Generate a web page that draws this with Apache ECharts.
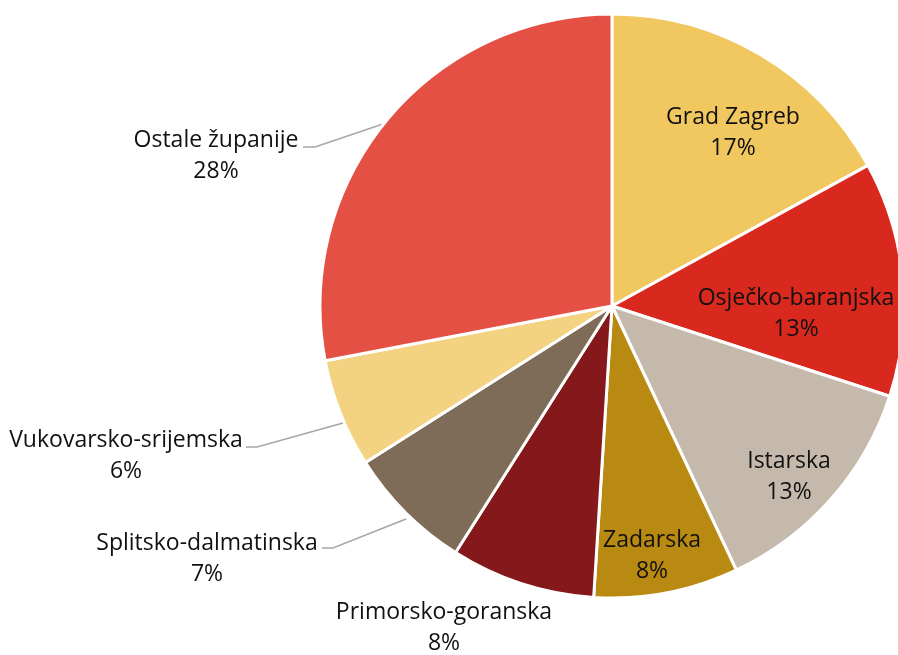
<!DOCTYPE html>
<html>
<head>
<meta charset="utf-8">
<script src="https://cdn.jsdelivr.net/npm/echarts@6/dist/echarts.min.js"></script>
<style>
  html, body { margin: 0; padding: 0; background: #fff; }
  #chart { width: 898px; height: 655px; }
</style>
</head>
<body>
<div id="chart"></div>
<script>
// Share of counties (percent), clockwise from 12 o'clock
const counties = [
  'Grad Zagreb', 'Osječko-baranjska', 'Istarska', 'Zadarska',
  'Primorsko-goranska', 'Splitsko-dalmatinska', 'Vukovarsko-srijemska', 'Ostale županije'
];
const shares = [17, 13, 13, 8, 8, 7, 6, 28];
const sliceColors = [
  '#F1C75F', '#D9281E', '#C5B9AB', '#B98A12',
  '#84181A', '#7F6C58', '#F3D282', '#E55045'
];

// Label placement: centre of each two-line label, and whether it sits outside with a leader
const labelSpots = [
  { x: 733, y: 133 }, { x: 796, y: 314 }, { x: 789, y: 477 }, { x: 652, y: 556 },
  { x: 444, y: 628 },
  { x: 207, y: 559, line: [[406, 519], [333, 548], [322, 548]] },
  { x: 126, y: 456, line: [[343, 423], [257, 447], [246, 447]] },
  { x: 216, y: 156, line: [[383, 124], [315, 147], [303, 147]] }
];

const chart = echarts.init(document.getElementById('chart'));

chart.setOption({
  animation: false,
  series: [{
    type: 'pie',
    center: [612, 306],
    radius: 292,
    startAngle: 90,
    clockwise: true,
    avoidLabelOverlap: false,
    itemStyle: { borderColor: '#ffffff', borderWidth: 3 },
    label: {
      show: true,
      position: 'outside',
      fontFamily: 'Open Sans',
      fontSize: 23,
      lineHeight: 31,
      color: '#111111',
      align: 'center',
      formatter: p => p.name + '\n' + Math.round(p.value) + '%'
    },
    labelLine: {
      show: true,
      length: 10,
      length2: 10,
      lineStyle: { color: '#A6A6A6', width: 1.5 }
    },
    labelLayout: p => {
      const s = labelSpots[p.dataIndex];
      const out = { x: s.x, y: s.y, align: 'center', verticalAlign: 'middle' };
      out.labelLinePoints = s.line ? s.line : [[s.x, s.y], [s.x, s.y], [s.x, s.y]];
      return out;
    },
    data: counties.map((name, i) => ({
      name,
      value: shares[i],
      itemStyle: { color: sliceColors[i] },
      labelLine: { show: !!labelSpots[i].line }
    }))
  }]
});
</script>
</body>
</html>
